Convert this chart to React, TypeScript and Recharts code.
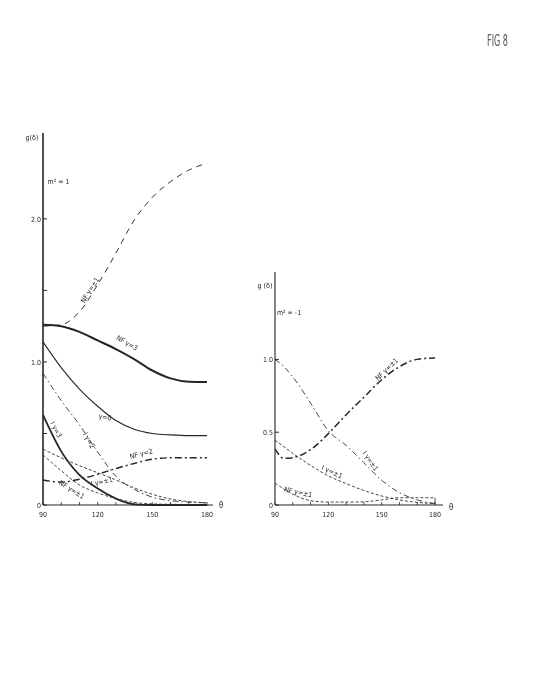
import React from 'react'
import { LineChart, Line, XAxis, YAxis, ReferenceDot, ReferenceLine } from 'recharts'

// --- left panel (m² = 1) ---
const thetaL = [90, 100, 110, 120, 130, 140, 150, 160, 170, 180]
const nfPm1L = [1.25, 1.26, 1.35, 1.54, 1.76, 1.99, 2.15, 2.26, 2.34, 2.39]
const nf3L   = [1.26, 1.25, 1.21, 1.15, 1.09, 1.02, 0.94, 0.885, 0.862, 0.86]
const g0L    = [1.14, 0.96, 0.81, 0.69, 0.59, 0.53, 0.5, 0.49, 0.485, 0.485]
const i2L    = [0.92, 0.73, 0.56, 0.37, 0.2, 0.11, 0.055, 0.03, 0.02, 0.015]
const i3L    = [0.63, 0.375, 0.21, 0.115, 0.045, 0.005, 0, 0, 0, 0]
const nf2L   = [0.175, 0.16, 0.18, 0.215, 0.255, 0.29, 0.32, 0.33, 0.33, 0.33]
const iPm1L  = [0.39, 0.33, 0.275, 0.225, 0.175, 0.12, 0.075, 0.042, 0.024, 0.015]
const nfLowL = [0.35, 0.24, 0.14, 0.085, 0.045, 0.018, 0.008, 0.005, 0.003, 0.002]

// --- right panel (m² = -1) ---
const thetaR = [90, 95, 100, 110, 120, 130, 140, 150, 160, 170, 180]
const nfPm1R = [0.385, 0.32, 0.325, 0.38, 0.49, 0.62, 0.74, 0.86, 0.95, 1.0, 1.01]
const iDdR   = [1.0, 0.95, 0.88, 0.7, 0.51, 0.41, 0.29, 0.17, 0.085, 0.035, 0.01]
const iDsR   = [0.445, 0.4, 0.355, 0.272, 0.2, 0.147, 0.1, 0.062, 0.035, 0.018, 0.01]
const nfDsR  = [0.15, 0.11, 0.075, 0.03, 0.02, 0.02, 0.022, 0.035, 0.05, 0.05, 0.05]

const xTicks = [90, 100, 110, 120, 130, 140, 150, 160, 170, 180]
const xTickLabels: Record<number, string> = { 90: '90', 120: '120', 150: '150', 180: '180' }
const yTicksL = [0, 0.5, 1, 1.5, 2]
const yTickLabelsL: Record<number, string> = { 0: '0', 1: '1.0', 2: '2.0' }
const yTicksR = [0, 0.5, 1]
const yTickLabelsR: Record<number, string> = { 0: '0', 0.5: '0.5', 1: '1.0' }

const dataL = thetaL.map((t, i) => ({
  t, nfPm1: nfPm1L[i], nf3: nf3L[i], g0: g0L[i], i2: i2L[i],
  i3: i3L[i], nf2: nf2L[i], iPm1: iPm1L[i], nfLow: nfLowL[i],
}))
const dataR = thetaR.map((t, i) => ({
  t, nfPm1: nfPm1R[i], iDd: iDdR[i], iDs: iDsR[i], nfDs: nfDsR[i],
}))

const FONT = '"DejaVu Sans Condensed", "DejaVu Sans", sans-serif'
const INK = '#262626'

const YTick = ({ x, y, payload, labels }: any) => (
  <g>
    <line x1={x} x2={x + 4} y1={y} y2={y} stroke={INK} strokeWidth={1} />
    {labels[payload.value] && (
      <text x={x - 2} y={y + 3} textAnchor="end" fontSize={7} fontFamily={FONT} fill={INK}>
        {labels[payload.value]}
      </text>
    )}
  </g>
)

const XTick = ({ x, y, payload }: any) => (
  <g>
    <line x1={x} x2={x} y1={y} y2={y - 3} stroke={INK} strokeWidth={0.8} />
    {xTickLabels[payload.value] && (
      <text x={x} y={y + 12} textAnchor="middle" fontSize={7} fontFamily={FONT} fill={INK}>
        {xTickLabels[payload.value]}
      </text>
    )}
  </g>
)

// Label clones its content with its own `angle`, so the rotation goes in `rot`
const CurveText = ({ viewBox, text, rot = 0, size = 7 }: any) => {
  const cx = viewBox.x + (viewBox.width || 0) / 2
  const cy = viewBox.y + (viewBox.height || 0) / 2
  return (
    <text
      x={cx} y={cy} textAnchor="middle" dominantBaseline="middle"
      transform={`rotate(${rot} ${cx} ${cy})`}
      fontSize={size} fontFamily={FONT} fill={INK}
    >
      {text}
    </text>
  )
}

const tag = (x: number, y: number, text: string, rot = 0, size = 7) => (
  <ReferenceDot
    key={text + x + y} x={x} y={y} r={0} fill="none" stroke="none"
    label={<CurveText text={text} rot={rot} size={size} />}
  />
)

const layer = { position: 'absolute' as const, willChange: 'transform' }

export default function App() {
  return (
    <div style={{ position: 'absolute', left: 0, top: 0, width: 545, height: 692, background: '#fff', overflow: 'hidden' }}>
      <div style={{ ...layer, left: 0, top: 100 }}>
        <LineChart width={233} height={430} data={dataL} margin={{ top: 33, right: 20, left: 18, bottom: 5 }}>
          <XAxis
            dataKey="t" type="number" domain={[90, 183.3]} ticks={xTicks} interval={0}
            tickSize={0} tickMargin={0} tick={(p: any) => <XTick {...p} />}
            axisLine={{ stroke: INK, strokeWidth: 1.2 }} height={20}
          />
          <YAxis
            type="number" domain={[0, 2.6]} ticks={yTicksL} interval={0} width={25}
            tickSize={0} tickMargin={0} tick={(p: any) => <YTick {...p} labels={yTickLabelsL} />}
            axisLine={{ stroke: INK, strokeWidth: 1.6 }}
          />
          <Line dataKey="nfPm1" type="monotone" stroke="#333" strokeWidth={1} strokeDasharray="6 5" dot={false} isAnimationActive={false} />
          <Line dataKey="nf3" type="monotone" stroke={INK} strokeWidth={2} dot={false} isAnimationActive={false} />
          <Line dataKey="g0" type="monotone" stroke={INK} strokeWidth={1.1} dot={false} isAnimationActive={false} />
          <Line dataKey="i2" type="monotone" stroke="#333" strokeWidth={0.9} strokeDasharray="6 3 1.5 3" dot={false} isAnimationActive={false} />
          <Line dataKey="i3" type="monotone" stroke={INK} strokeWidth={1.8} dot={false} isAnimationActive={false} />
          <Line dataKey="nf2" type="monotone" stroke={INK} strokeWidth={1.4} strokeDasharray="7 3 2 3" dot={false} isAnimationActive={false} />
          <Line dataKey="iPm1" type="monotone" stroke="#333" strokeWidth={0.9} strokeDasharray="3 2" dot={false} isAnimationActive={false} />
          <Line dataKey="nfLow" type="monotone" stroke="#333" strokeWidth={0.9} strokeDasharray="3 2" dot={false} isAnimationActive={false} />
          {tag(98.5, 2.26, 'm² = 1', 0, 7)}
          {tag(116, 1.5, 'NF γ=±1', -58)}
          {tag(136, 1.13, 'NF γ=3', 30)}
          {tag(124, 0.61, 'γ=0', 12)}
          {tag(115, 0.45, 'I γ=2', 60)}
          {tag(96.9, 0.525, 'I γ=3', 62)}
          {tag(144, 0.355, 'NF γ=2', -14)}
          {tag(122.3, 0.16, 'I γ=±1', -12)}
          {tag(105.7, 0.105, 'NF γ=±1', 32)}
        </LineChart>
      </div>

      <div style={{ ...layer, left: 230, top: 240 }}>
        <LineChart width={233} height={290} data={dataR} margin={{ top: 32, right: 20, left: 20, bottom: 5 }}>
          <XAxis
            dataKey="t" type="number" domain={[90, 184.5]} ticks={xTicks} interval={0}
            tickSize={0} tickMargin={0} tick={(p: any) => <XTick {...p} />}
            axisLine={{ stroke: INK, strokeWidth: 1.2 }} height={20}
          />
          <YAxis
            type="number" domain={[0, 1.6]} ticks={yTicksR} interval={0} width={25}
            tickSize={0} tickMargin={0} tick={(p: any) => <YTick {...p} labels={yTickLabelsR} />}
            axisLine={{ stroke: '#444', strokeWidth: 1.3 }}
          />
          <ReferenceLine segment={[{ x: 180, y: 0 }, { x: 180, y: nfDsR[nfDsR.length - 1] }]} stroke="#333" strokeWidth={0.9} />
          <Line dataKey="nfPm1" type="monotone" stroke={INK} strokeWidth={1.5} strokeDasharray="7 3 2 3" dot={false} isAnimationActive={false} />
          <Line dataKey="iDd" type="monotone" stroke="#333" strokeWidth={0.9} strokeDasharray="6 3 1.5 3" dot={false} isAnimationActive={false} />
          <Line dataKey="iDs" type="monotone" stroke="#333" strokeWidth={0.9} strokeDasharray="3 2" dot={false} isAnimationActive={false} />
          <Line dataKey="nfDs" type="monotone" stroke="#333" strokeWidth={0.9} strokeDasharray="3 2" dot={false} isAnimationActive={false} />
          {tag(97.9, 1.315, 'm² = -1', 0, 7)}
          {tag(153, 0.93, 'NF γ=±1', -45)}
          {tag(143.5, 0.3, 'I γ=±1', 55)}
          {tag(122, 0.225, 'I γ=±1', 25)}
          {tag(103, 0.085, 'NF γ=±1', 12)}
        </LineChart>
      </div>

      <svg width={545} height={692} style={{ ...layer, left: 0, top: 0, pointerEvents: 'none' }}>
        <text x={487} y={46} fontSize={15} fontFamily={FONT} fontWeight={200} fill="#555" textLength={21} lengthAdjust="spacingAndGlyphs">FIG 8</text>
        <text x={32} y={140} textAnchor="middle" fontSize={7} fontFamily={FONT} fill={INK}>g(δ)</text>
        <text x={265} y={288} textAnchor="middle" fontSize={7} fontFamily={FONT} fill={INK}>g (δ)</text>
        <text x={219} y={508} fontSize={8} fontFamily={FONT} fill={INK}>θ</text>
        <text x={449} y={510} fontSize={8} fontFamily={FONT} fill={INK}>θ</text>
      </svg>
    </div>
  )
}
